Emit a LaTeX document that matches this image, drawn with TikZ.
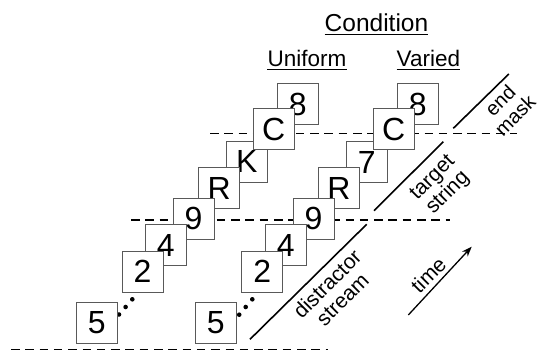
\documentclass[tikz,border=0pt]{standalone}
\usepackage{fontspec}
\setmainfont{Liberation Sans}
\usetikzlibrary{arrows.meta}
\tikzset{
  stim/.style={draw=black!65, line width=0.9pt, fill=white, minimum size=41pt,
    inner sep=0pt, font=\fontsize{32}{38}\selectfont},
  sepline/.style={line width=1.6pt, dash pattern=on 8.5pt off 5.8pt},
  diag/.style={line width=1.6pt},
  lab/.style={rotate=45, align=center, inner sep=0pt, font=\fontsize{21}{21.5}\selectfont},
  head/.style={inner sep=0pt, anchor=base, font=\fontsize{22.5}{26}\selectfont},
  ul/.style={line width=1.3pt},
  dotm/.style={circle, fill=black, inner sep=0pt, minimum size=4.6pt}
}
\begin{document}
\begin{tikzpicture}[x=1pt, y=-1pt]
\useasboundingbox (0,0) rectangle (539,351);
% headings
\node[head, font=\fontsize{24.5}{28}\selectfont] (cond) at (376.5,31.7) {Condition};
\node[head] (unif) at (307,66.7) {Uniform};
\node[head] (vari) at (428.4,66.7) {Varied};
\draw[ul] ([yshift=-2.6pt]cond.base west) -- ([yshift=-2.6pt]cond.base east);
\draw[ul] ([yshift=-2.6pt]unif.base west) -- ([yshift=-2.6pt]unif.base east);
\draw[ul] ([yshift=-2.6pt]vari.base west) -- ([yshift=-2.6pt]vari.base east);
% dashed separators
\coordinate (s1a) at (11,349.5); \coordinate (s1b) at (328,349.5);
\coordinate (s2a) at (131,220); \coordinate (s2b) at (450,220);
\coordinate (s3a) at (210,133.3); \coordinate (s3b) at (517,133.3);
\draw[sepline] (s1a) -- (s1b);
\draw[sepline] (s2a) -- (s2b);
\draw[sepline] (s3a) -- (s3b);
% Uniform column
\node[stim] (u8) at (297.8,104.2) {8};
\node[stim] (uK) at (246.8,161.8) {K};
\node[stim] (uC) at (273.8,129.2) {C};
\node[stim] (uR) at (219.2,188.3) {R};
\node[stim] (u9) at (193.5,218.8) {9};
\node[stim] (u4) at (165.8,245.2) {4};
\node[stim] (u2) at (142.5,271.8) {2};
\node[dotm] (ud1) at (132.3,299.3) {};
\node[dotm] (ud2) at (125.6,307.0) {};
\node[dotm] (ud3) at (119.0,314.5) {};
\node[stim] (u5) at (96.7,322.5) {5};
% Varied column
\node[stim] (v8) at (417.8,104.2) {8};
\node[stim] (v7) at (366.8,162.0) {7};
\node[stim] (vC) at (393.8,129.2) {C};
\node[stim] (vR) at (339.0,188.3) {R};
\node[stim] (v9) at (313.5,218.7) {9};
\node[stim] (v4) at (285.8,245.0) {4};
\node[stim] (v2) at (262.2,271.8) {2};
\node[dotm] (vd1) at (252.3,299.3) {};
\node[dotm] (vd2) at (245.7,307.0) {};
\node[dotm] (vd3) at (239.2,314.7) {};
\node[stim] (v5) at (215.8,322.5) {5};
% diagonal phase markers
\coordinate (e1) at (453.3,128.3); \coordinate (e2) at (508.8,74);
\coordinate (t1) at (374,210.7); \coordinate (t2) at (443.3,141.7);
\coordinate (d1) at (250,339.3); \coordinate (d2) at (366.7,224.3);
\draw[diag] (e1) -- (e2);
\draw[diag] (t1) -- (t2);
\draw[diag] (d1) -- (d2);
\node[lab, font=\fontsize{20}{21}\selectfont] (lend) at (507.5,108) {end\\mask};
\node[lab] (ltar) at (440.8,185.8) {target\\string};
\node[lab] (ldis) at (334.6,291.5) {distractor\\stream};
% time arrow
\coordinate (ta) at (408.3,315); \coordinate (tb) at (471.7,246.7);
\draw[line width=1.3pt, -{Stealth[length=10pt, width=7.5pt]}] (ta) -- (tb);
\node[lab] (ltime) at (428.3,275) {time};
\end{tikzpicture}
\end{document}
